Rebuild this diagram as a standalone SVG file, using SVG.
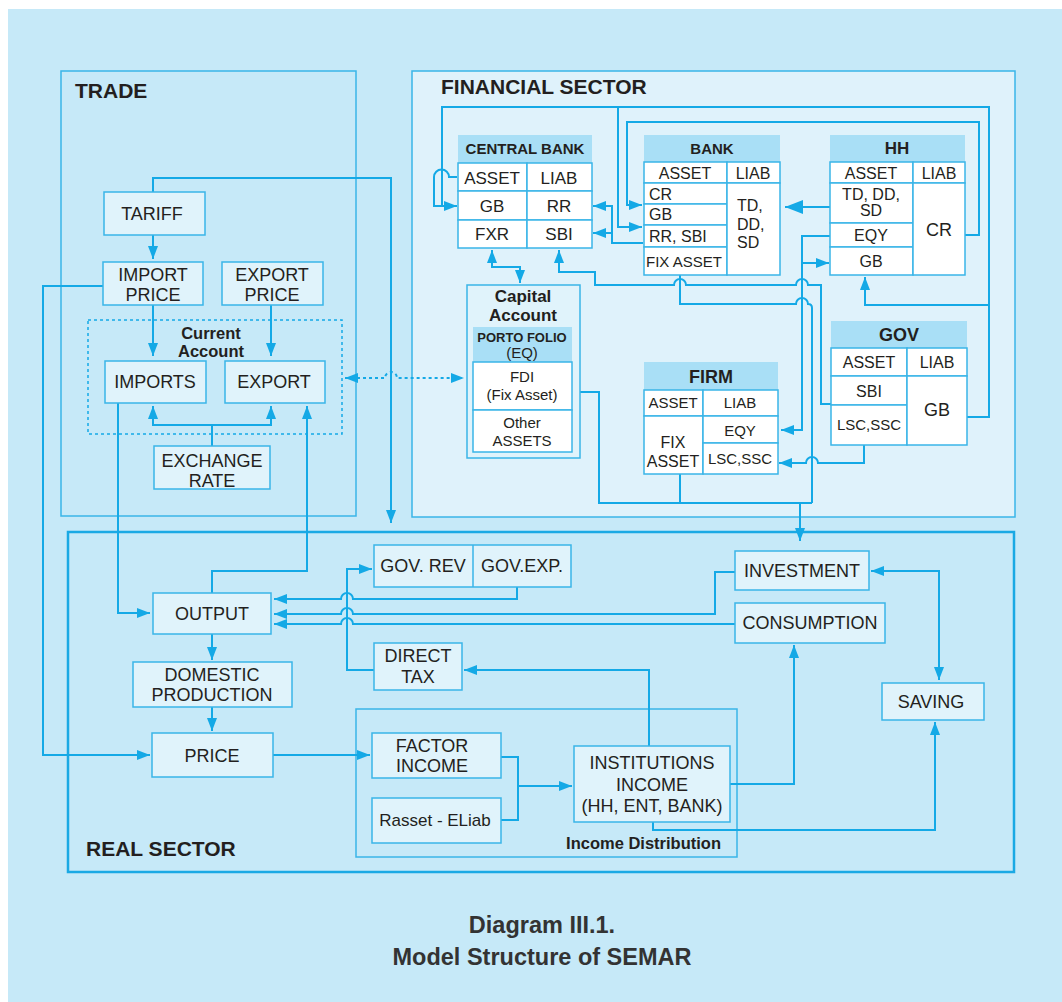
<svg xmlns="http://www.w3.org/2000/svg" width="1062" height="1002" viewBox="0 0 1062 1002">
<style>
text{font-family:"Liberation Sans",Arial,sans-serif;fill:#231f20;text-anchor:middle}
.t{font-size:18px}
.s{font-size:16px}
.xs{font-size:15px}
.b{font-weight:bold}
.ttl{font-size:21px;font-weight:bold;text-anchor:start}
.sec{fill:none;stroke:#3ab5e8;stroke-width:1.5}
.box{fill:#e0f3fb;stroke:#3ab5e8;stroke-width:1.5}
.hd{fill:#a9dff6;stroke:none}
.cell{fill:#ffffff;stroke:#3ab5e8;stroke-width:1.5}
.c{fill:none;stroke:#14a9e6;stroke-width:2}
.a{marker-end:url(#ah)}
.aa{marker-start:url(#ah);marker-end:url(#ah)}
.dash{stroke-dasharray:3 3}
</style>
<defs>
<marker id="ah" viewBox="0 0 13 10" refX="13" refY="5" markerWidth="13" markerHeight="10" markerUnits="userSpaceOnUse" orient="auto-start-reverse">
<path d="M0,0 L13,5 L0,10 z" fill="#14a9e6"/>
</marker>
<marker id="ahb" viewBox="0 0 18 14" refX="18" refY="7" markerWidth="18" markerHeight="14" markerUnits="userSpaceOnUse" orient="auto">
<path d="M0,0 L18,7 L0,14 z" fill="#14a9e6"/>
</marker>
</defs>
<rect x="8" y="9" width="1054" height="993" fill="#c6e9f8"/>

<g id="sections">
<rect x="61" y="71" width="295" height="445" class="sec"/>
<rect x="412" y="71" width="603" height="446" fill="#dff2fb" stroke="#3ab5e8" stroke-width="1.5"/>
<rect x="68" y="532" width="946" height="340" fill="none" stroke="#1aa9e4" stroke-width="2.5"/>
<rect x="88" y="320" width="254" height="114" fill="none" stroke="#14a9e6" stroke-width="1.5" stroke-dasharray="3 3"/>
<rect x="356" y="709" width="381" height="148" class="sec"/>
<text x="75" y="98" class="ttl">TRADE</text>
<text x="441" y="94" class="ttl">FINANCIAL SECTOR</text>
<text x="86" y="856" class="ttl">REAL SECTOR</text>
<text x="211" y="339" style="font-size:16.5px;font-weight:bold">Current</text>
<text x="211" y="357" style="font-size:16.5px;font-weight:bold">Account</text>
<text x="721" y="849" style="font-size:16.5px;font-weight:bold;text-anchor:end">Income Distribution</text>
</g>

<g id="connectors">
<path class="c a" d="M153,192 V178 H391 V523"/>
<path class="c a" d="M153,235 V259"/>
<path class="c a" d="M103,286 H43 V755 H150"/>
<path class="c a" d="M153,305 V356"/>
<path class="c a" d="M271,305 V356"/>
<path class="c" d="M212,446 V425"/>
<path class="c aa" d="M153,406 V425 H271 V406"/>
<path class="c a" d="M118,403 V613 H150"/>
<path class="c a" d="M212,593 V571 H307 V406"/>
<path class="c aa dash" d="M345,378 H385 a6,6 0 0 1 12,0 H464"/>
<path class="c aa" d="M492,250 V267 H520 V283"/>
<path class="c a" d="M831,404 H821 V285 H808 a6,6 0 0 0 -12,0 H686 a6,6 0 0 0 -12,0 H595 V272 H559 V250"/>
<path class="c" d="M680,275 V304 H796 a6,6 0 0 1 12,0 q4,0 4,4 V503"/>
<path class="c a" d="M830,236 H802 V430 H781"/>
<path class="c a" d="M802,263 H829"/>
<path class="c" d="M572,392 H599 V503 H812"/>
<path class="c" d="M680,474 V503"/>
<path class="c a" d="M800,503 V541"/>
<path class="c a" d="M864,445 V463 H818 a6,6 0 0 0 -12,0 H779"/>
<path class="c a" d="M967,417 H989 V107 H442 V206 H457"/>
<path class="c" d="M457,177 H449 a7.5,7.5 0 0 0 -15,0 V206 H442"/>
<path class="c a" d="M989,305 H865 V277"/>
<path class="c a" d="M618,107 V227 H642"/>
<path class="c a" d="M965,235 H979 V122 H627 V205 H642"/>
<path class="c a" d="M643,243 H612 V206 H593"/>
<path class="c a" d="M612,233 H593"/>
<path class="c" d="M830,207 H785" stroke-width="3" marker-end="url(#ahb)"/>
<path class="c a" d="M212,634 V660"/>
<path class="c a" d="M212,707 V731"/>
<path class="c a" d="M273,755 H370"/>
<path class="c" d="M501,757 H518 V820 H501"/>
<path class="c a" d="M518,786 H572"/>
<path class="c a" d="M649,746 V670 H464"/>
<path class="c a" d="M730,784 H794 V645"/>
<path class="c a" d="M653,822 V830 H935 V722"/>
<path class="c aa" d="M871,571 H939 V680"/>
<path class="c a" d="M735,572 H715 V614 H353 a6,6 0 0 0 -12,0 H274"/>
<path class="c a" d="M735,624 H353 a6,6 0 0 0 -12,0 H274"/>
<path class="c a" d="M517,587 V599 H353 a6,6 0 0 0 -12,0 H274"/>
<path class="c a" d="M374,670 H347 V569 H372"/>
</g>

<g id="tariff"><rect x="104" y="192" width="101" height="43" class="box"/><text x="152" y="220" class="t">TARIFF</text></g>
<g id="import-price"><rect x="103" y="262" width="100" height="43" class="box"/><text x="153" y="281" class="t">IMPORT</text><text x="153" y="301" class="t">PRICE</text></g>
<g id="export-price"><rect x="222" y="262" width="101" height="43" class="box"/><text x="272" y="281" class="t">EXPORT</text><text x="272" y="301" class="t">PRICE</text></g>
<g id="imports"><rect x="105" y="361" width="101" height="42" class="box"/><text x="155" y="388" class="t">IMPORTS</text></g>
<g id="export"><rect x="225" y="361" width="100" height="42" class="box"/><text x="274" y="388" class="t">EXPORT</text></g>
<g id="exchange-rate"><rect x="154" y="446" width="116" height="43" class="box"/><text x="212" y="467" class="t">EXCHANGE</text><text x="212" y="487" class="t">RATE</text></g>

<g id="capital-account">
<rect x="467" y="285" width="113" height="173" class="box"/>
<text x="523" y="302" style="font-size:17px;font-weight:bold">Capital</text>
<text x="523" y="321" style="font-size:17px;font-weight:bold">Account</text>
<rect x="473" y="327" width="99" height="35" class="hd"/>
<text x="522" y="342" style="font-size:13px;font-weight:bold">PORTO FOLIO</text>
<text x="522" y="358" class="xs">(EQ)</text>
<rect x="473" y="362" width="99" height="48" class="cell"/>
<text x="522" y="382" class="xs">FDI</text>
<text x="522" y="400" class="xs">(Fix Asset)</text>
<rect x="473" y="410" width="99" height="42" class="cell"/>
<text x="522" y="428" class="xs">Other</text>
<text x="522" y="446" class="xs">ASSETS</text>
</g>

<g id="central-bank">
<rect x="458" y="135" width="134" height="28" class="hd"/>
<text x="525" y="154" class="xs b">CENTRAL BANK</text>
<rect x="458" y="163" width="69" height="28" class="cell"/><rect x="527" y="163" width="65" height="28" class="cell"/>
<rect x="458" y="191" width="69" height="29" class="cell"/><rect x="527" y="191" width="65" height="29" class="cell"/>
<rect x="458" y="220" width="69" height="28" class="cell"/><rect x="527" y="220" width="65" height="28" class="cell"/>
<text x="492" y="184" style="font-size:17px">ASSET</text><text x="559" y="184" style="font-size:17px">LIAB</text>
<text x="492" y="212" style="font-size:17px">GB</text><text x="559" y="212" style="font-size:17px">RR</text>
<text x="492" y="240" style="font-size:17px">FXR</text><text x="559" y="240" style="font-size:17px">SBI</text>
</g>

<g id="bank">
<rect x="644" y="135" width="136" height="27" class="hd"/>
<text x="712" y="154" class="xs b">BANK</text>
<rect x="644" y="162" width="83" height="21" class="cell"/><rect x="727" y="162" width="53" height="21" class="cell"/>
<rect x="644" y="183" width="83" height="21" class="cell"/>
<rect x="644" y="204" width="83" height="21" class="cell"/>
<rect x="644" y="225" width="83" height="22" class="cell"/>
<rect x="644" y="247" width="83" height="28" class="cell"/>
<rect x="727" y="183" width="53" height="92" class="cell"/>
<text x="685" y="179" class="s">ASSET</text><text x="753" y="179" class="s">LIAB</text>
<text x="649" y="200" class="s" style="text-anchor:start">CR</text>
<text x="649" y="220" class="s" style="text-anchor:start">GB</text>
<text x="649" y="242" class="s" style="text-anchor:start">RR, SBI</text>
<text x="646" y="267" class="xs" style="text-anchor:start">FIX ASSET</text>
<text x="737" y="211" class="s" style="text-anchor:start">TD,</text>
<text x="737" y="230" class="s" style="text-anchor:start">DD,</text>
<text x="737" y="248" class="s" style="text-anchor:start">SD</text>
</g>

<g id="hh">
<rect x="830" y="135" width="135" height="27" class="hd"/>
<text x="897" y="154" style="font-size:17px;font-weight:bold">HH</text>
<rect x="830" y="162" width="83" height="21" class="cell"/><rect x="913" y="162" width="52" height="21" class="cell"/>
<rect x="830" y="183" width="83" height="40" class="cell"/>
<rect x="830" y="223" width="83" height="24" class="cell"/>
<rect x="830" y="247" width="83" height="28" class="cell"/>
<rect x="913" y="183" width="52" height="92" class="cell"/>
<text x="871" y="179" class="s">ASSET</text><text x="939" y="179" class="s">LIAB</text>
<text x="871" y="200" class="s">TD, DD,</text><text x="871" y="216" class="s">SD</text>
<text x="871" y="241" class="s">EQY</text>
<text x="871" y="267" class="s">GB</text>
<text x="939" y="236" style="font-size:18px">CR</text>
</g>

<g id="gov">
<rect x="831" y="321" width="136" height="27" class="hd"/>
<text x="899" y="341" style="font-size:18px;font-weight:bold">GOV</text>
<rect x="831" y="348" width="76" height="28" class="cell"/><rect x="907" y="348" width="60" height="28" class="cell"/>
<rect x="831" y="376" width="76" height="29" class="cell"/>
<rect x="831" y="405" width="76" height="40" class="cell"/>
<rect x="907" y="376" width="60" height="69" class="cell"/>
<text x="869" y="368" class="s">ASSET</text><text x="937" y="368" class="s">LIAB</text>
<text x="869" y="397" class="s">SBI</text>
<text x="869" y="430" class="xs">LSC,SSC</text>
<text x="937" y="416" style="font-size:18px">GB</text>
</g>

<g id="firm">
<rect x="644" y="362" width="134" height="28" class="hd"/>
<text x="711" y="383" style="font-size:18px;font-weight:bold">FIRM</text>
<rect x="644" y="390" width="59" height="26" class="cell"/><rect x="703" y="390" width="75" height="26" class="cell"/>
<rect x="644" y="416" width="59" height="58" class="cell"/>
<rect x="703" y="416" width="75" height="27" class="cell"/>
<rect x="703" y="443" width="75" height="31" class="cell"/>
<text x="673" y="408" class="xs">ASSET</text><text x="740" y="408" class="xs">LIAB</text>
<text x="740" y="436" class="xs">EQY</text>
<text x="740" y="464" class="xs">LSC,SSC</text>
<text x="673" y="448" class="s">FIX</text><text x="673" y="467" class="s">ASSET</text>
</g>

<g id="output"><rect x="153" y="593" width="118" height="41" class="box"/><text x="212" y="620" class="t">OUTPUT</text></g>
<g id="domestic-production"><rect x="133" y="662" width="159" height="45" class="box"/><text x="212" y="681" class="t">DOMESTIC</text><text x="212" y="701" class="t">PRODUCTION</text></g>
<g id="price"><rect x="152" y="733" width="121" height="44" class="box"/><text x="212" y="762" class="t">PRICE</text></g>
<g id="gov-rev-exp"><rect x="374" y="545" width="197" height="42" class="box"/><line x1="473" y1="545" x2="473" y2="587" stroke="#3ab5e8" stroke-width="1.5"/><text x="423" y="572" class="t">GOV. REV</text><text x="522" y="572" class="t">GOV.EXP.</text></g>
<g id="direct-tax"><rect x="374" y="643" width="88" height="47" class="box"/><text x="418" y="662" class="t">DIRECT</text><text x="418" y="683" class="t">TAX</text></g>
<g id="investment"><rect x="735" y="551" width="134" height="39" class="box"/><text x="802" y="577" class="t">INVESTMENT</text></g>
<g id="consumption"><rect x="735" y="603" width="150" height="40" class="box"/><text x="810" y="629" class="t">CONSUMPTION</text></g>
<g id="saving"><rect x="882" y="683" width="102" height="37" class="box"/><text x="931" y="708" class="t">SAVING</text></g>
<g id="factor-income"><rect x="372" y="733" width="129" height="45" class="box"/><text x="432" y="752" class="t">FACTOR</text><text x="432" y="772" class="t">INCOME</text></g>
<g id="rasset-eliab"><rect x="372" y="798" width="129" height="45" class="box"/><text x="435" y="826" style="font-size:17px">Rasset - ELiab</text></g>
<g id="institutions-income"><rect x="574" y="746" width="156" height="76" class="box"/><text x="652" y="769" class="t">INSTITUTIONS</text><text x="652" y="791" class="t">INCOME</text><text x="652" y="812" class="t">(HH, ENT, BANK)</text></g>

<g id="caption">
<text x="542" y="933" style="font-size:23.5px;font-weight:bold;fill:#333">Diagram III.1.</text>
<text x="542" y="965" style="font-size:23.5px;font-weight:bold;fill:#333">Model Structure of SEMAR</text>
</g>
</svg>
